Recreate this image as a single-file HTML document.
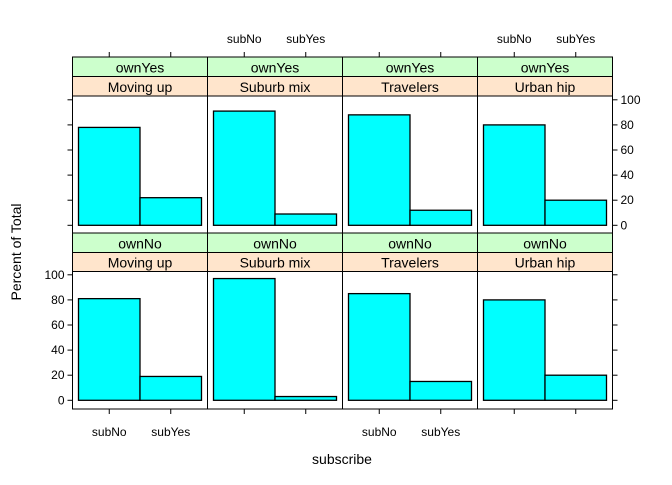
<!DOCTYPE html>
<html><head><meta charset="utf-8"><style>
body{margin:0;background:#fff}
svg text{font-family:"Liberation Sans",sans-serif;fill:#000}
</style></head><body>
<svg id="c" width="672" height="480"></svg>
<script>
const segments=["Moving up","Suburb mix","Travelers","Urban hip"];
const owns=["ownYes","ownNo"];
const cats=["subNo","subYes"];
const valsOwnYes=[[78,22],[91,9],[88,12],[80,20]];
const valsOwnNo=[[81,19],[97,3],[85,15],[80,20]];
const yTicks=[0,20,40,60,80,100];
const NS="http://www.w3.org/2000/svg";
const svg=document.getElementById('c');
function mk(t,a,p){const e=document.createElementNS(NS,t);for(const k in a)e.setAttribute(k,a[k]);(p||svg).appendChild(e);return e;}
const colX0=72.5,colW=135,xMin=0.5,xMax=2.5;
const rows=[{strip:57,div:76.5,top:96,bot:233,zero:225.3,vals:valsOwnYes,own:owns[0]},
            {strip:233,div:252.5,top:271.5,bot:409,zero:400.3,vals:valsOwnNo,own:owns[1]}];
const pxPerUnit=1.255;
function xs(c,v){return colX0+c*colW+6+(v-xMin)/(xMax-xMin)*(colW-12);}
rows.forEach((r,ri)=>{
  const ys=v=>r.zero-v*pxPerUnit;
  segments.forEach((s,c)=>{
    const x0=colX0+c*colW;
    let e=mk('rect',{x:x0,y:r.strip,width:colW,height:r.div-r.strip,fill:'#ccffcc',stroke:'#000'});
    
    e=mk('text',{x:x0+colW/2,y:r.div-4,'font-size':14,'text-anchor':'middle'});e.textContent=r.own;
    
    e=mk('rect',{x:x0,y:r.div,width:colW,height:r.top-r.div,fill:'#ffe5cc',stroke:'#000'});
    
    e=mk('text',{x:x0+colW/2,y:r.top-4,'font-size':14,'text-anchor':'middle'});e.textContent=s;
    
    e=mk('rect',{x:x0,y:r.top,width:colW,height:r.bot-r.top,fill:'none',stroke:'#000'});
    
    r.vals[c].forEach((v,i)=>{
      const xa=xs(c,i+0.5),xb=xs(c,i+1.5);
      const b=mk('rect',{x:xa,y:ys(v),width:xb-xa,height:v*pxPerUnit,fill:'#00ffff',stroke:'#000','stroke-width':1.3});
      
    });
  });
  // y ticks
  yTicks.forEach(t=>{
    const y=ys(t);
    mk('line',{x1:colX0-5,x2:colX0,y1:y,y2:y,stroke:'#000'});
    mk('line',{x1:colX0+4*colW,x2:colX0+4*colW+5,y1:y,y2:y,stroke:'#000'});
    let e;
    if(ri===1){e=mk('text',{x:colX0-8,y:y+4,'font-size':12,'text-anchor':'end'});}
    else{e=mk('text',{x:colX0+4*colW+8,y:y+4,'font-size':12});}
    e.textContent=t;
  });
});
// x ticks
for(let c=0;c<4;c++){
  cats.forEach((k,i)=>{
    const x=xs(c,i+1);
    mk('line',{x1:x,x2:x,y1:52,y2:57,stroke:'#000'});
    mk('line',{x1:x,x2:x,y1:409,y2:414,stroke:'#000'});
    let e=null;
    if(c%2===1){e=mk('text',{x:x,y:43,'font-size':12,'text-anchor':'middle'});}
    else{e=mk('text',{x:x,y:436,'font-size':12,'text-anchor':'middle'});}
    e.textContent=k;
  });
}
let t=mk('text',{x:342,y:464,'font-size':14,'text-anchor':'middle'});t.textContent='subscribe';

t=mk('text',{x:0,y:0,'font-size':14,'text-anchor':'middle',transform:'translate(21,252) rotate(-90)'});t.textContent='Percent of Total';

</script>
</body></html>
